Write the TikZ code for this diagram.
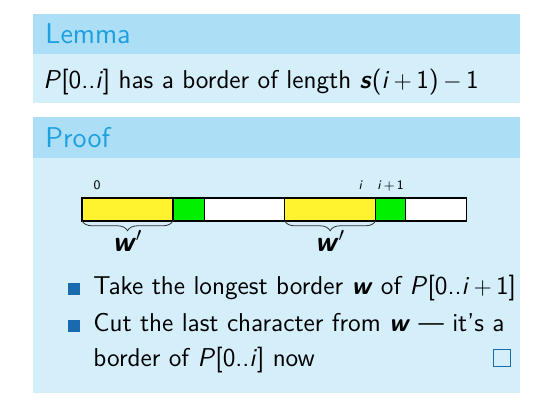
\documentclass[tikz,border=0pt]{standalone}
\usepackage{tikz}
\usetikzlibrary{positioning,decorations.pathreplacing}
\definecolor{hdrc}{HTML}{ACDFF6}
\definecolor{bodyc}{HTML}{D4EEFA}
\definecolor{titc}{HTML}{1CA1DE}
\definecolor{bulc}{HTML}{1A6AB0}
\definecolor{yelc}{HTML}{FFF22E}
\definecolor{grnc}{HTML}{00F000}
\newcommand{\sv}[1]{\textsl{#1}}
\newcommand{\bv}[1]{\textbf{\textsl{#1}}}
\tikzset{
  ttl/.style={anchor=base west,inner sep=0pt,text=titc,font=\sffamily\fontsize{14.3}{17}\selectfont},
  txt/.style={anchor=base west,inner sep=0pt,align=left,font=\sffamily\fontsize{12.9}{17.5}\selectfont},
  cell/.style={draw,line width=0.85pt,minimum width=#1,minimum height=11.3pt,inner sep=0pt,outer sep=0pt},
  lab/.style={anchor=base,inner sep=0pt,font=\sffamily\fontsize{6.5}{8}\selectfont},
  brc/.style={decorate,decoration={brace,mirror,amplitude=5pt},black!80,thin},
  bul/.style={fill=bulc,minimum size=6pt,inner sep=0pt,anchor=south west},
  qed/.style={draw=bulc,line width=0.6pt,minimum size=8.5pt,inner sep=0pt,anchor=south west}
}
\begin{document}
\begin{tikzpicture}[x=0.5pt,y=-0.5pt]
\useasboundingbox (0,0) rectangle (552,410);
% blocks
\fill[hdrc] (33,14) rectangle (520,54);
\fill[bodyc] (33,54) rectangle (520,103);
\fill[hdrc] (33,117) rectangle (520,158);
\fill[bodyc] (33,158) rectangle (520,393);
\node[ttl] (lemt) at (45,44) {Lemma};
\node[txt] (lemb) at (43,89) {\sv{P}[0..\sv{i}] has a border of length \bv{s}(\sv{i}\,$+$\,1)\,$-$\,1};
\node[ttl] (prft) at (45,148) {Proof};
% the string
\node[cell=45.5pt,fill=yelc,anchor=west] (c1) at (82,209.5) {};
\node[cell=15.8pt,fill=grnc,right=0pt of c1] (c2) {};
\node[cell=40pt,fill=white,right=0pt of c2] (c3) {};
\node[cell=45.5pt,fill=yelc,right=0pt of c3] (c4) {};
\node[cell=15pt,fill=grnc,right=0pt of c4] (c5) {};
\node[cell=30.5pt,fill=white,right=0pt of c5] (c6) {};
\node[lab] (l0) at ([shift={(7.5pt,4.5pt)}]c1.north west) {0};
\node[lab] (li) at ([shift={(-7.5pt,4.5pt)}]c4.north east) {\sv{i}};
\node[lab] (li1) at ([yshift=4.5pt]c5.north) {\sv{i}\,$+$\,1};
\draw[brc] (c1.south west) -- (c1.south east);
\draw[brc] (c4.south west) -- (c4.south east);
\node[txt,anchor=base,font=\sffamily\fontsize{14.4}{17}\selectfont] (w1) at ([yshift=-15.5pt]c1.south) {\bv{w}$'$};
\node[txt,anchor=base,font=\sffamily\fontsize{14.4}{17}\selectfont] (w2) at ([yshift=-15.5pt]c4.south) {\bv{w}$'$};
% items
\node[txt] (t1) at (93,295) {Take the longest border \bv{w} of \sv{P}[0..\sv{i}\,$+$\,1]};
\node[txt] (t2) at (93,367) {Cut the last character from \bv{w} --- it's a\\border of \sv{P}[0..\sv{i}] now};
\node[bul] (b1) at (68,295) {};
\node[bul] (b2) at (68,332) {};
\node[qed] (q) at (493,367) {};
\end{tikzpicture}
\end{document}
